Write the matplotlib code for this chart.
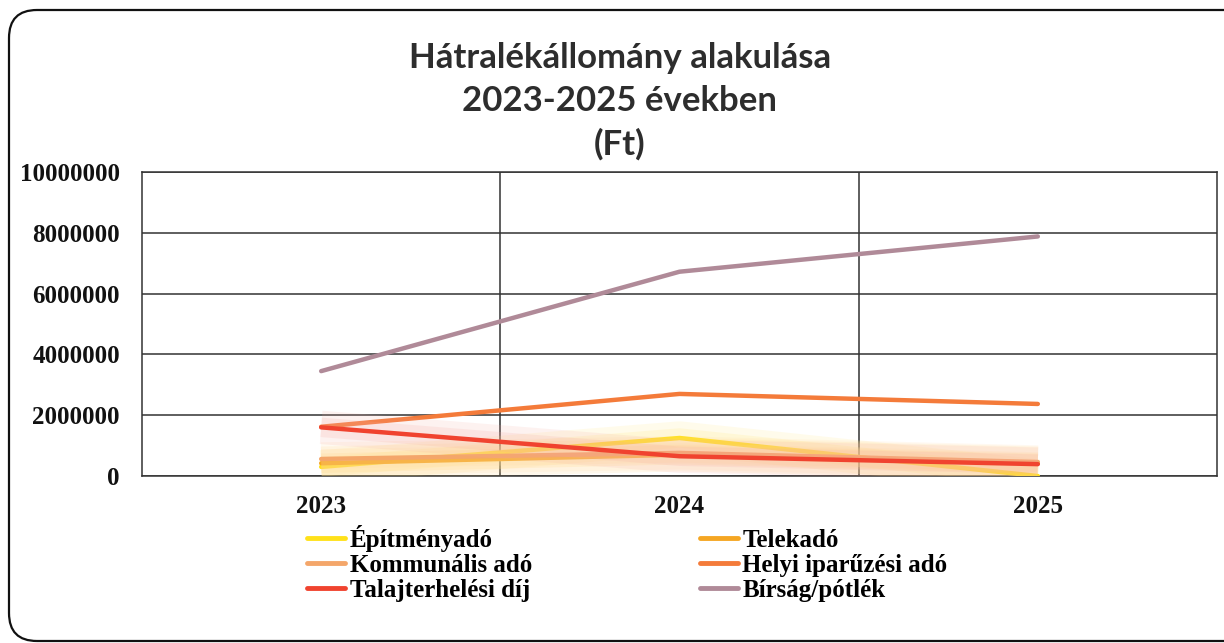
import matplotlib
matplotlib.use("Agg")
import matplotlib.pyplot as plt
import matplotlib.patheffects as pe
from matplotlib.patches import FancyBboxPatch

years = ["2023", "2024", "2025"]
series_names = ["Építményadó", "Telekadó", "Kommunális adó",
                "Helyi iparűzési adó", "Talajterhelési díj", "Bírság/pótlék"]
epitmenyado = [300000, 1250000, 0]
telekado = [420000, 700000, 420000]
kommunalis = [560000, 760000, 460000]
iparuzesi = [1620000, 2700000, 2370000]
talajterhelesi = [1600000, 650000, 390000]
birsag = [3450000, 6720000, 7880000]
y_ticks = [0, 2000000, 4000000, 6000000, 8000000, 10000000]

values = [epitmenyado, telekado, kommunalis, iparuzesi, talajterhelesi, birsag]
colors = ["#FFE11A", "#F5A623", "#F4A66A", "#F47B3A", "#F0432F", "#B08A98"]
glow_colors = ["#FFE97A", "#FFD27A", "#FFD9A0", None, "#F7A8A0", None]

W, H = 1224, 643
fig = plt.figure(figsize=(W / 100, H / 100), dpi=100)
fig.patch.set_facecolor("white")

# rounded frame (display coords, origin bottom-left)
frame = FancyBboxPatch((9, 2), 1300, H - 10 - 2, boxstyle="round,pad=0,rounding_size=28",
                       transform=None, facecolor="none", edgecolor="#111111",
                       linewidth=1.6, zorder=0)
fig.patches.append(frame)

ax = fig.add_axes([142 / W, 1 - 476 / H, (1217 - 142) / W, (476 - 172) / H])
x = list(range(len(years)))
handles = {}
for name, v, c, gc in zip(series_names, values, colors, glow_colors):
    effects = []
    if gc is not None:
        effects = [pe.Stroke(linewidth=24, foreground=gc, alpha=0.15, capstyle="butt"),
                   pe.Stroke(linewidth=14, foreground=gc, alpha=0.18, capstyle="butt"),
                   pe.Normal()]
    ln, = ax.plot(x, v, color=c, linewidth=3.2, solid_capstyle="round",
                  path_effects=effects, zorder=3)
    handles[name] = ln

ax.set_xlim(-0.5, 2.5)
ax.set_ylim(0, 10000000)
ax.set_yticks(y_ticks)
ax.set_yticklabels([str(t) for t in y_ticks])
ax.set_xticks(x)
ax.set_xticklabels(years)
ax.set_xticks([0.5, 1.5], minor=True)
ax.grid(True, which="major", axis="y", color="#333333", linewidth=1.1)
ax.grid(True, which="minor", axis="x", color="#333333", linewidth=1.1)
ax.tick_params(which="both", length=0)
ax.tick_params(axis="y", pad=16)
ax.tick_params(axis="x", pad=14)
for s in ax.spines.values():
    s.set_color("#333333")
    s.set_linewidth(1.1)
for lbl in ax.get_xticklabels() + ax.get_yticklabels():
    lbl.set_fontfamily("Liberation Serif")
    lbl.set_fontweight("bold")
    lbl.set_fontsize(18)
    lbl.set_color("#111111")

fig.text(620 / W, 1 - 101 / H, "Hátralékállomány alakulása\n2023-2025 években\n(Ft)",
         ha="center", va="center", fontfamily="Lato", fontweight="bold",
         fontsize=25, color="#2d2d2d", linespacing=1.42)

# legend: one entry per slot, anchored at the bottom so baselines line up
legprop = {"family": "Liberation Serif", "weight": "bold", "size": 18}
legend_slots = [("Építményadó", 307, 552), ("Telekadó", 700, 552),
                ("Kommunális adó", 307, 577), ("Helyi iparűzési adó", 700, 577),
                ("Talajterhelési díj", 307, 602), ("Bírság/pótlék", 700, 602)]
for name, xpos, ypos in legend_slots:
    lg = fig.legend([handles[name]], [name], loc="lower left",
                    bbox_to_anchor=(xpos / W, 1 - ypos / H),
                    frameon=False, handlelength=1.5, handletextpad=0.2,
                    borderpad=0, borderaxespad=0, prop=legprop)
    for h in lg.legend_handles:
        h.set_path_effects([])
        h.set_linewidth(3.5)

fig.savefig("out.png", dpi=100)
